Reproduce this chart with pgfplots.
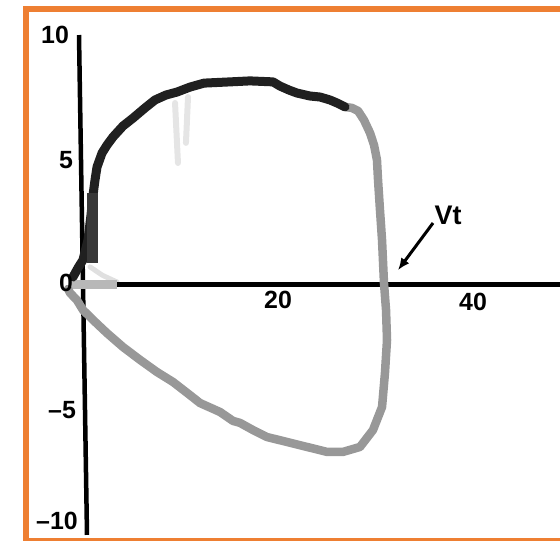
\documentclass[border=0pt]{standalone}
\usepackage{pgfplots}
\pgfplotsset{compat=1.18}
\usepackage{fontspec}
\setmainfont{Liberation Sans}
\usetikzlibrary{arrows.meta}
\definecolor{frameorange}{RGB}{238,127,50}
\definecolor{loopdark}{RGB}{32,32,32}
\definecolor{loopgray}{RGB}{152,152,152}
\definecolor{barlight}{RGB}{184,184,184}
\tikzset{ticklab/.style={font=\fontsize{25}{25}\selectfont\bfseries, inner sep=0pt}}
\begin{document}
\begin{tikzpicture}
\useasboundingbox (0,0) rectangle (560bp,541bp);
\begin{axis}[
  at={(0,0)}, anchor=south west,
  scale only axis, width=560bp, height=541bp,
  xmin=-8.513, xmax=48.923, ymin=-10.363, ymax=11.452,
  hide axis, clip=true,
]
% orange frame
\draw[frameorange, line width=6bp]
  (rel axis cs:1.1,0.9834) -- (rel axis cs:0.0464,0.9834)
  -- (rel axis cs:0.0464,0) -- (rel axis cs:1.1,0);
% faint traces
\addplot[black!10, line width=6bp, line cap=round] coordinates {(9.44,7.30) (9.74,4.88)};
\addplot[black!10, line width=6bp, line cap=round] coordinates {(10.77,7.54) (10.56,5.69)};
\addplot[black!12, line width=5bp, line cap=round] coordinates {(0.72,0.69) (2.0,0.35) (3.49,0.08)};
% axes
\addplot[black, line width=5bp] coordinates {(-0.3,0) (48.92,0)};
\addplot[black, line width=4.5bp] coordinates {(-0.41,10.04) (0.41,-10.12)};
\addplot[barlight, line width=9bp] coordinates {(-1.13,0) (3.49,0)};
% expiration (gray)
\addplot[loopgray, line width=8.5bp, line join=round, line cap=round] coordinates {
(26.87,7.14) (27.59,7.10) (28.21,6.98) (28.82,6.61) (29.44,6.09) (29.85,5.60)
(30.15,5.00) (30.26,4.19) (30.46,2.98) (30.67,1.77) (30.87,0.04) (31.08,-1.05)
(31.18,-2.26) (30.97,-3.59) (30.67,-4.96) (29.74,-5.89) (28.41,-6.57) (26.67,-6.77)
(25.03,-6.77) (22.97,-6.57) (20.92,-6.37) (18.87,-6.17) (17.44,-5.89) (16.10,-5.60)
(15.38,-5.52) (14.05,-5.16) (12.00,-4.80) (10.97,-4.48) (9.23,-3.95) (7.59,-3.55)
(5.85,-3.06) (4.10,-2.54) (2.46,-1.98) (1.03,-1.45) (0,-1.05) (-0.62,-0.65)
(-1.33,-0.36) (-1.54,-0.20)
};
% inspiration (dark)
\addplot[loopdark, line width=9bp, line join=round, line cap=round] coordinates {
(-1.03,0.28) (-0.51,0.65) (0,0.97) (0.51,1.77) (0.82,2.78) (1.03,3.59) (1.23,4.19)
(1.44,4.72) (1.95,5.28) (2.46,5.60) (3.08,5.93) (4.10,6.37) (5.13,6.69) (6.36,7.10)
(7.38,7.42) (8.51,7.62) (9.64,7.74) (10.97,7.94) (12.41,8.10) (15.08,8.15)
(17.13,8.19) (19.49,8.15) (20.21,7.98) (21.13,7.82) (21.95,7.70) (23.28,7.58)
(24.31,7.54) (25.33,7.42) (26.05,7.30) (26.87,7.14)
};
\addplot[black!78, line width=11bp] coordinates {(0.97,0.85) (0.97,3.67)};
% tick labels
\node[ticklab] at (axis cs:-2.87,10.04) {10};
\node[ticklab] at (axis cs:-1.74,5.0) {5};
\node[ticklab] at (axis cs:-1.74,0.04) {0};
\node[ticklab] at (axis cs:-2.15,-5.08) {\textendash5};
\node[ticklab] at (axis cs:-2.67,-9.56) {\textendash10};
\node[ticklab] at (axis cs:20.0,-0.65) {20};
\node[ticklab] at (axis cs:40.0,-0.73) {40};
\node[font=\fontsize{27}{27}\selectfont\bfseries, inner sep=0pt] at (axis cs:37.44,2.78) {Vt};
\draw[black, line width=3bp, -{Latex[length=12bp, width=10bp]}]
  (axis cs:35.90,2.46) -- (axis cs:32.31,0.56);
\end{axis}
\end{tikzpicture}
\end{document}
